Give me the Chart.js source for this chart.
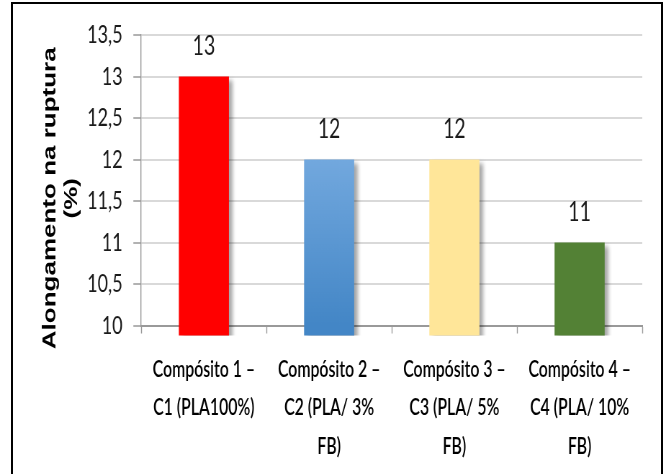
<!DOCTYPE html>
<html>
<head>
<meta charset="utf-8">
<script src="https://cdn.jsdelivr.net/npm/chart.js@4.4.1/dist/chart.umd.min.js"></script>
<style>
html, body { margin: 0; padding: 0; background: #fff; overflow: hidden; }
#wrap { position: relative; width: 666px; height: 474px; }
#frame { position: absolute; left: 11px; top: 2px; width: 648px; height: 520px; border: 2px solid #000; border-bottom: none; }
#myChart { position: absolute; left: 0; top: 0; }
</style>
</head>
<body>
<div id="wrap">
  <div id="frame"></div>
  <!-- the source picture is squeezed sideways, so the canvas is drawn wide and shown at 666px -->
  <canvas id="myChart" width="925" height="474" style="width:666px;height:474px"></canvas>
</div>
<script>
const categoryLines = [
    ['Compósito 1 –', 'C1 (PLA100%)'],
    ['Compósito 2 –', 'C2 (PLA/ 3%', 'FB)'],
    ['Compósito 3 –', 'C3 (PLA/ 5%', 'FB)'],
    ['Compósito 4 –', 'C4 (PLA/ 10%', 'FB)']
];
const elongation = [13, 12, 12, 11];
const yAxisTitle = ['Alongamento na ruptura', '(%)'];
const yMin = 10;
const yMax = 13.5;
const yStep = 0.5;

const barColors = ['#ff0000', '#5b9bd5', '#ffe699', '#538135'];
const tickFont = 'Lato, "Liberation Sans", sans-serif';

function barFill(c) {
    const i = c.dataIndex;
    if (i !== 1) return barColors[i];
    const { ctx, chartArea, scales } = c.chart;
    if (!chartArea) return barColors[i];
    const g = ctx.createLinearGradient(0, scales.y.getPixelForValue(elongation[i]), 0, chartArea.bottom);
    g.addColorStop(0, '#72a8de');
    g.addColorStop(1, '#4386c6');
    return g;
}

// soft shadow right/below each bar
const barShadow = {
    id: 'barShadow',
    beforeDatasetsDraw(chart) {
        const ctx = chart.ctx;
        ctx.save();
        ctx.shadowColor = 'rgba(0,0,0,0.35)';
        ctx.shadowOffsetX = 5;
        ctx.shadowOffsetY = 3;
        ctx.shadowBlur = 5;
    },
    afterDatasetsDraw(chart) {
        chart.ctx.restore();
    }
};

const valueLabels = {
    id: 'valueLabels',
    afterDatasetsDraw(chart) {
        const ctx = chart.ctx;
        ctx.save();
        ctx.font = '27px ' + tickFont;
        ctx.fillStyle = '#1a1a1a';
        ctx.textAlign = 'center';
        ctx.textBaseline = 'middle';
        chart.getDatasetMeta(0).data.forEach((bar, i) => {
            ctx.fillText(String(elongation[i]), bar.x, bar.y - 30);
        });
        ctx.restore();
    }
};

const yTitle = {
    id: 'yTitle',
    afterDraw(chart) {
        const ctx = chart.ctx;
        const area = chart.chartArea;
        const cy = (area.top + area.bottom) / 2 + 18;
        ctx.save();
        ctx.font = 'bold 26px "Liberation Sans", Arial, sans-serif';
        ctx.fillStyle = '#000';
        ctx.textAlign = 'center';
        ctx.textBaseline = 'middle';
        [70, 100].forEach((x, i) => {
            ctx.save();
            ctx.translate(x, cy);
            ctx.rotate(-Math.PI / 2);
            ctx.fillText(yAxisTitle[i], 0, 0);
            ctx.restore();
        });
        ctx.restore();
    }
};

const ctx = document.getElementById('myChart').getContext('2d');
const myChart = new Chart(ctx, {
    type: 'bar',
    data: {
        labels: categoryLines,
        datasets: [{
            data: elongation,
            backgroundColor: barFill,
            borderWidth: 0,
            barPercentage: 0.4,
            categoryPercentage: 1,
            clip: 10
        }]
    },
    options: {
        responsive: false,
        animation: false,
        layout: { padding: { left: 106, right: 33, top: 35, bottom: -9 } },
        plugins: {
            legend: { display: false },
            tooltip: { enabled: false }
        },
        scales: {
            x: {
                grid: {
                    offset: true,
                    drawOnChartArea: false,
                    tickLength: 8,
                    tickColor: '#999',
                    tickWidth: 1.4
                },
                border: { color: '#999', width: 2 },
                ticks: {
                    maxRotation: 0,
                    autoSkip: false,
                    padding: 17,
                    color: '#000',
                    font: { family: tickFont, size: 22, weight: 600, lineHeight: 1.75 }
                }
            },
            y: {
                min: yMin,
                max: yMax,
                grid: {
                    color: '#d9d9d9',
                    lineWidth: 2,
                    tickLength: 11,
                    tickColor: '#999',
                    tickWidth: 1.5
                },
                border: { color: '#999', width: 1.4 },
                ticks: {
                    stepSize: yStep,
                    padding: 15,
                    color: '#1a1a1a',
                    font: { family: tickFont, size: 25 },
                    callback: v => String(v).replace('.', ',')
                }
            }
        }
    },
    plugins: [barShadow, valueLabels, yTitle]
});
</script>
</body>
</html>
